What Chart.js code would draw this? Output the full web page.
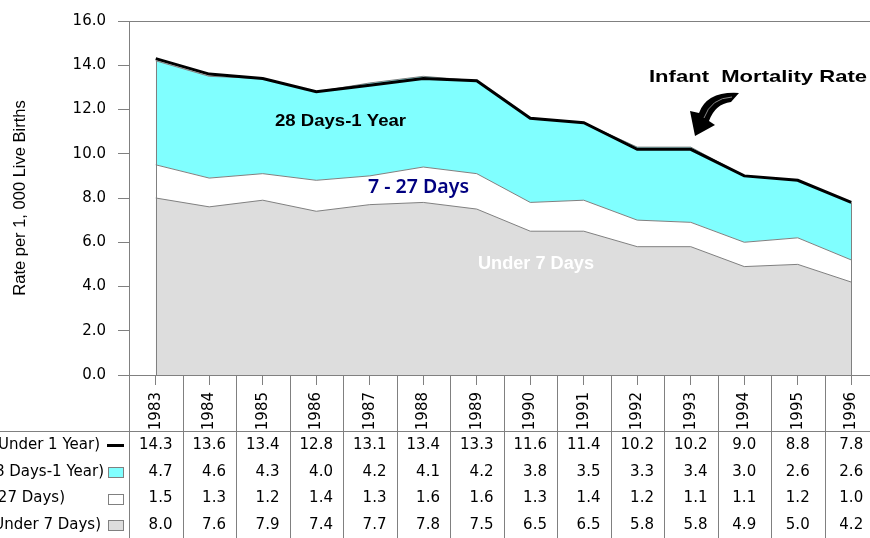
<!DOCTYPE html>
<html>
<head>
<meta charset="utf-8">
<script src="https://cdn.jsdelivr.net/npm/chart.js@4.4.0/dist/chart.umd.min.js"></script>
<style>
  html, body { margin: 0; padding: 0; background: #fff; overflow: hidden; }
  #wrap { width: 870px; height: 538px; overflow: hidden; }
  canvas { display: block; }
</style>
</head>
<body>
<div id="wrap"><canvas id="mortChart" width="880" height="538"></canvas></div>
<script>
const years = ['1983', '1984', '1985', '1986', '1987', '1988', '1989', '1990', '1991', '1992', '1993', '1994', '1995', '1996'];
const under1Year = [14.3, 13.6, 13.4, 12.8, 13.1, 13.4, 13.3, 11.6, 11.4, 10.2, 10.2, 9.0, 8.8, 7.8];
const days28To1Year = [4.7, 4.6, 4.3, 4.0, 4.2, 4.1, 4.2, 3.8, 3.5, 3.3, 3.4, 3.0, 2.6, 2.6];
const days7To27 = [1.5, 1.3, 1.2, 1.4, 1.3, 1.6, 1.6, 1.3, 1.4, 1.2, 1.1, 1.1, 1.2, 1.0];
const under7Days = [8.0, 7.6, 7.9, 7.4, 7.7, 7.8, 7.5, 6.5, 6.5, 5.8, 5.8, 4.9, 5.0, 4.2];
const rowLabels = ['Infant Mortality (Under 1 Year)', 'Postneonatal (28 Days-1 Year)', 'Neonatal (7-27 Days)', 'Early Neonatal (Under 7 Days)'];
const yMin = 0, yMax = 16, yStep = 2;
const yTitle = 'Rate per 1, 000 Live Births';

const GRAY = '#808080';
const CYAN = '#80ffff';
const LIGHT = '#dddddd';
const tableFont = '15px "DejaVu Sans"';

function fitText(ctx, text, x, y, width, font, color) {
    ctx.font = font;
    ctx.fillStyle = color;
    ctx.textAlign = 'left';
    ctx.textBaseline = 'middle';
    const w = ctx.measureText(text).width;
    ctx.save();
    ctx.translate(x, y);
    ctx.scale(width / w, 1);
    ctx.fillText(text, 0, 0);
    ctx.restore();
}

const tablePlugin = {
    id: 'mortTable',
    afterDatasetsDraw(chart) {
        // closing edges of the stacked areas
        const ctx = chart.ctx;
        const area = chart.chartArea;
        const pts = chart.getDatasetMeta(3).data;
        ctx.save();
        ctx.strokeStyle = GRAY;
        ctx.lineWidth = 1;
        [pts[0], pts[pts.length - 1]].forEach(p => {
            const x = Math.round(p.x) + 0.5;
            ctx.beginPath();
            ctx.moveTo(x, p.y);
            ctx.lineTo(x, area.bottom);
            ctx.stroke();
        });
        ctx.restore();
    },
    afterDraw(chart) {
        const ctx = chart.ctx;
        const area = chart.chartArea;
        const xs = chart.scales.x;
        const n = years.length;
        const colW = (area.right - area.left) / n;
        const rowLineY = 431.5;

        ctx.save();
        ctx.strokeStyle = GRAY;
        ctx.lineWidth = 1;
        // axis line continues through the table
        ctx.beginPath();
        ctx.moveTo(area.left + 0.5, area.bottom);
        ctx.lineTo(area.left + 0.5, chart.height);
        for (let i = 1; i < n; i++) {
            const x = Math.round(area.left + i * colW) + 0.5;
            ctx.moveTo(x, area.bottom);
            ctx.lineTo(x, chart.height);
        }
        ctx.moveTo(0, rowLineY);
        ctx.lineTo(chart.width, rowLineY);
        ctx.stroke();

        // table values
        const rows = [under1Year, days28To1Year, days7To27, under7Days];
        const rowY = [445.5, 472, 498.5, 525];
        ctx.font = tableFont;
        ctx.fillStyle = '#000';
        ctx.textBaseline = 'middle';
        ctx.textAlign = 'right';
        for (let i = 0; i < n; i++) {
            const cx = xs.getPixelForValue(i);
            const texts = rows.map(r => r[i].toFixed(1));
            const maxW = Math.max(...texts.map(t => ctx.measureText(t).width));
            texts.forEach((t, r) => ctx.fillText(t, cx + maxW / 2, rowY[r]));
        }

        // row labels (clipped at the left edge) and keys
        const labelEnd = [100, 104, 65, 101];
        rowLabels.forEach((lab, r) => ctx.fillText(lab, labelEnd[r], rowY[r]));
        ctx.strokeStyle = '#000';
        ctx.lineWidth = 3;
        ctx.beginPath();
        ctx.moveTo(107, rowY[0]);
        ctx.lineTo(124, rowY[0]);
        ctx.stroke();
        const keyFill = [CYAN, '#ffffff', LIGHT];
        ctx.lineWidth = 1;
        ctx.strokeStyle = GRAY;
        keyFill.forEach((c, k) => {
            const y = Math.round(rowY[k + 1] - 5) + 0.5;
            ctx.fillStyle = c;
            ctx.fillRect(108.5, y, 15, 10);
            ctx.strokeRect(108.5, y, 15, 10);
        });

        // area annotations
        fitText(ctx, '28 Days-1 Year', 275, 121, 131, 'bold 17px "Liberation Sans"', '#000');
        fitText(ctx, '7 - 27 Days', 368, 188, 101, '600 19px "Noto Sans"', '#000080');
        fitText(ctx, 'Under 7 Days', 478, 264.5, 116, 'bold 18px "Liberation Sans"', '#ffffff');
        fitText(ctx, 'Infant  Mortality Rate', 649, 77, 218, 'bold 17px "Liberation Sans"', '#000');

        // curved arrow
        ctx.fillStyle = '#000';
        ctx.beginPath();
        ctx.moveTo(739, 93);
        ctx.quadraticCurveTo(707, 91, 699, 113);
        ctx.lineTo(690, 111);
        ctx.lineTo(695, 136);
        ctx.lineTo(715, 125);
        ctx.lineTo(709, 121);
        ctx.quadraticCurveTo(715, 104, 731, 102);
        ctx.closePath();
        ctx.fill();
        ctx.strokeStyle = '#888';
        ctx.lineWidth = 1;
        ctx.beginPath();
        ctx.moveTo(732, 97);
        ctx.quadraticCurveTo(711, 98, 704, 118);
        ctx.stroke();
        ctx.restore();
    }
};

const ctx = document.getElementById('mortChart').getContext('2d');
new Chart(ctx, {
    type: 'line',
    data: {
        labels: years,
        datasets: [
            {
                label: rowLabels[0],
                data: under1Year,
                stack: 'total',
                borderColor: '#000',
                borderWidth: 3,
                fill: false
            },
            {
                label: rowLabels[3],
                data: under7Days,
                stack: 'parts',
                borderColor: GRAY,
                borderWidth: 1,
                backgroundColor: LIGHT,
                fill: 'origin'
            },
            {
                label: rowLabels[2],
                data: days7To27,
                stack: 'parts',
                borderColor: GRAY,
                borderWidth: 1,
                backgroundColor: '#ffffff',
                fill: '-1'
            },
            {
                label: rowLabels[1],
                data: days28To1Year,
                stack: 'parts',
                borderColor: GRAY,
                borderWidth: 1,
                backgroundColor: CYAN,
                fill: '-1'
            }
        ]
    },
    options: {
        responsive: false,
        animation: false,
        devicePixelRatio: 1,
        layout: { padding: { top: 20, right: 2, left: 0, bottom: 0 } },
        elements: {
            point: { radius: 0 },
            line: { tension: 0 }
        },
        plugins: {
            legend: { display: false },
            tooltip: { enabled: false }
        },
        scales: {
            x: {
                offset: true,
                grid: { offset: false, drawOnChartArea: false, tickLength: 10, color: GRAY },
                border: { color: GRAY, z: 1 },
                ticks: {
                    autoSkip: false,
                    minRotation: 90,
                    maxRotation: 90,
                    padding: 7,
                    color: '#000',
                    font: { family: 'DejaVu Sans', size: 15 }
                },
                afterFit(scale) { scale.height = 163; }
            },
            y: {
                stacked: true,
                min: yMin,
                max: yMax,
                grid: {
                    tickLength: 11,
                    tickColor: GRAY,
                    color: c => (c.tick && c.tick.value === yMax ? GRAY : 'rgba(0,0,0,0)')
                },
                border: { color: GRAY, z: 1 },
                ticks: {
                    stepSize: yStep,
                    padding: 12,
                    color: '#000',
                    font: { family: 'DejaVu Sans', size: 15 },
                    callback: v => Number(v).toFixed(1)
                },
                title: {
                    display: true,
                    text: yTitle,
                    color: '#000',
                    padding: { top: 11, bottom: 0 },
                    font: { family: 'Liberation Sans', size: 16.5 }
                },
                afterFit(scale) { scale.width = 129; }
            }
        }
    },
    plugins: [tablePlugin]
});
</script>
</body>
</html>
